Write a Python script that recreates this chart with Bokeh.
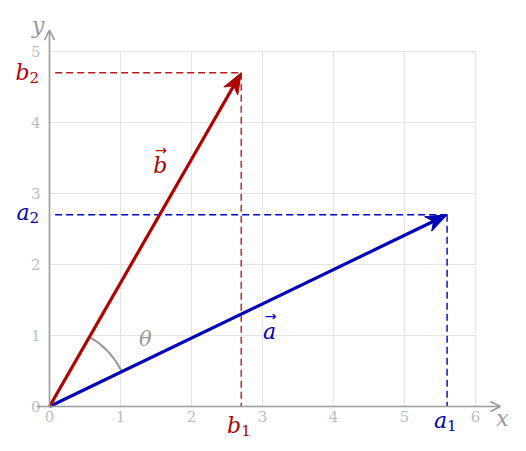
from bokeh.plotting import figure
from bokeh.models import Arrow, OpenHead
from bokeh.core.properties import value
from bokeh.embed import file_html
from bokeh.resources import INLINE
import numpy as np

# data
vec_names = ["a", "b"]
vec_x = [5.6, 2.7]
vec_y = [2.7, 4.7]
vec_colors = ["#0000b8", "#b00000"]
dash_colors = ["#0000c8", "#b81c1c"]
x_ticks = [0, 1, 2, 3, 4, 5, 6]
y_ticks = [0, 1, 2, 3, 4, 5]
x_tick_labels = ["0", "1", "2", "3", "4", "5", "6"]
y_tick_labels = ["0", "1", "2", "3", "4", "5"]

FONT = value("DejaVu Serif")
GRAY = "#9a9a9a"
TICK = "#bdbdbd"

W, H = 518, 443
sx = 71.0
x0_px, y0_px = 49, 406
p = figure(width=W, height=H, output_backend="svg", toolbar_location=None,
           x_range=(-x0_px / sx, (W - x0_px) / sx),
           y_range=(-(H - y0_px) / sx, y0_px / sx),
           x_axis_location=None, y_axis_location=None, min_border=0)
p.outline_line_color = None
p.xgrid.visible = False
p.ygrid.visible = False
p.background_fill_color = "white"

# grid
for t in x_ticks[1:]:
    p.line([t, t], [0, max(y_ticks)], line_color="#e4e4e4", line_width=1)
for t in y_ticks[1:]:
    p.line([0, max(x_ticks)], [t, t], line_color="#e4e4e4", line_width=1)

# axes
p.add_layout(Arrow(end=OpenHead(size=10, line_color=GRAY, line_width=1.6),
                   x_start=-0.18, y_start=0, x_end=6.35, y_end=0,
                   line_color=GRAY, line_width=1.6))
p.add_layout(Arrow(end=OpenHead(size=10, line_color=GRAY, line_width=1.6),
                   x_start=0, y_start=0, x_end=0, y_end=5.3,
                   line_color=GRAY, line_width=1.6))

# tick labels
p.text(x=x_ticks, y=[0] * len(x_ticks), text=x_tick_labels, text_font=FONT,
       text_font_size="15px", text_color=TICK, text_align="center",
       text_baseline="top", y_offset=4)
p.text(x=[0] * len(y_ticks), y=y_ticks, text=y_tick_labels, text_font=FONT,
       text_font_size="15px", text_color=TICK, text_align="right",
       text_baseline="middle", x_offset=-9)
p.text(x=[6.35], y=[0], text=["x"], text_font=FONT, text_font_style="italic",
       text_font_size="22px", text_color=GRAY, text_align="left",
       text_baseline="middle", x_offset=-4, y_offset=12)
p.text(x=[0], y=[5.3], text=["y"], text_font=FONT, text_font_style="italic",
       text_font_size="22px", text_color=GRAY, text_align="right",
       text_baseline="middle", x_offset=-5, y_offset=-5)

# dashed projections
for vx, vy, dc in zip(vec_x, vec_y, dash_colors):
    p.line([0.08, vx], [vy, vy], line_color=dc, line_dash="7 4", line_width=1.4)
    p.line([vx, vx], [vy, 0], line_color=dc, line_dash="7 4", line_width=1.4)

# angle arc
ang_a = np.arctan2(vec_y[0], vec_x[0])
ang_b = np.arctan2(vec_y[1], vec_x[1])
r = 1.13
p.arc(x=[0], y=[0], radius=r, start_angle=ang_a, end_angle=ang_b,
      line_color=GRAY, line_width=2)
p.text(x=[r * np.cos((ang_a + ang_b) / 2)], y=[r * np.sin((ang_a + ang_b) / 2)],
       text=["θ"], text_font=FONT, text_font_style="italic", text_font_size="21px",
       text_color=GRAY, text_align="center", text_baseline="middle",
       x_offset=37, y_offset=-13)

# vectors with stealth heads computed from the data
HL, HW, HN = 21 / sx, 8 / sx, 6 / sx
for i in range(2):
    vx, vy, c = vec_x[i], vec_y[i], vec_colors[i]
    L = np.hypot(vx, vy)
    ux, uy = vx / L, vy / L
    nx, ny = -uy, ux
    bx, by = vx - HL * ux, vy - HL * uy
    notch = (vx - (HL - HN) * ux, vy - (HL - HN) * uy)
    p.line([0, notch[0]], [0, notch[1]], line_color=c, line_width=3.2)
    p.patch([vx, bx + HW * nx, notch[0], bx - HW * nx],
            [vy, by + HW * ny, notch[1], by - HW * ny],
            fill_color=c, line_color=c, line_width=1, line_join="miter")

# component labels
def sublabel(x, y, main, sub, color, off_x, off_y):
    p.text(x=[x], y=[y], text=[main], text_font=FONT, text_font_style="italic",
           text_font_size="22px", text_color=color, text_align="right",
           text_baseline="middle", x_offset=off_x, y_offset=off_y)
    p.text(x=[x], y=[y], text=[sub], text_font=FONT,
           text_font_size="15px", text_color=color, text_align="left",
           text_baseline="middle", x_offset=off_x, y_offset=off_y + 5)

sublabel(0, vec_y[1], "b", "2", vec_colors[1], -20, 0)
sublabel(0, vec_y[0], "a", "2", vec_colors[0], -20, -2)
sublabel(vec_x[1], 0, "b", "1", vec_colors[1], 0, 19)
sublabel(vec_x[0], 0, "a", "1", vec_colors[0], 0, 14)

# vector name labels (letter with a small arrow above)
def veclabel(x, y, letter, color, ox, oy):
    p.text(x=[x], y=[y], text=[letter], text_font=FONT, text_font_style="italic",
           text_font_size="22px", text_color=color, text_align="center",
           text_baseline="middle", x_offset=ox, y_offset=oy)
    p.text(x=[x], y=[y], text=["\u2192"], text_font=value("DejaVu Sans"),
           text_font_size="14px", text_color=color, text_align="center",
           text_baseline="middle", x_offset=ox + 1, y_offset=oy - 15)

fa = 3.1 / vec_x[0]
veclabel(vec_x[0] * fa, vec_y[0] * fa, "a", vec_colors[0], 0, 31)
fb = 3.4 / vec_y[1]
veclabel(vec_x[1] * fb, vec_y[1] * fb, "b", vec_colors[1], -28, 0)

open("out.html", "w").write(file_html(p, INLINE))
